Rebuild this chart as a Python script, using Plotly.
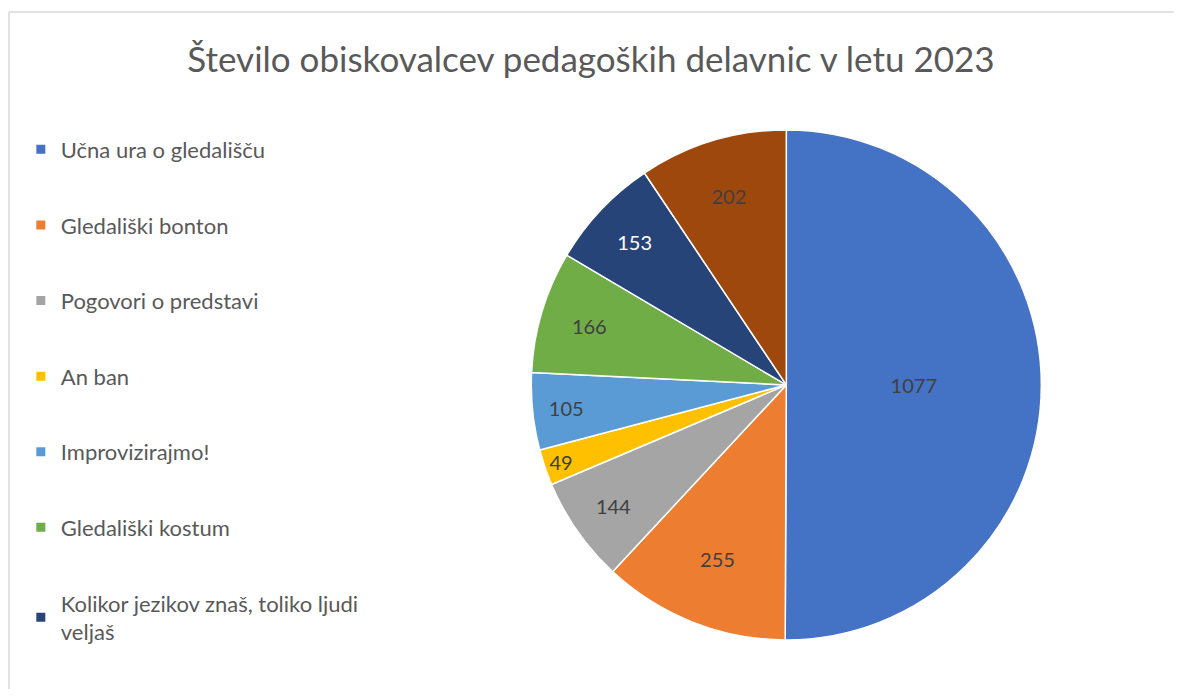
import plotly.graph_objects as go

labels = ["Učna ura o gledališču", "Gledališki bonton", "Pogovori o predstavi", "An ban",
          "Improvizirajmo!", "Gledališki kostum", "Kolikor jezikov znaš, toliko ljudi veljaš",
          "Druge delavnice"]
legend_names = ["Učna ura o gledališču", "Gledališki bonton", "Pogovori o predstavi", "An ban",
                "Improvizirajmo!", "Gledališki kostum", "Kolikor jezikov znaš, toliko ljudi<br>veljaš"]
values = [1077, 255, 144, 49, 105, 166, 153, 202]
colors = ["#4472C4", "#ED7D31", "#A5A5A5", "#FFC000", "#5B9BD5", "#70AD47", "#264478", "#9E480E"]
text_colors = ["#404040"] * 6 + ["white", "#404040"]

FONT = "Lato"

fig = go.Figure()
fig.add_trace(go.Pie(
    labels=labels, values=values, sort=False, direction="clockwise", rotation=0,
    marker=dict(colors=colors, line=dict(color="white", width=1.5)),
    textinfo="value", textposition="inside", insidetextorientation="horizontal",
    textfont=dict(color=text_colors, size=20, family=FONT),
    domain=dict(x=[0.40, 0.935], y=[0.072, 0.821]),
    showlegend=False,
))

for i, name in enumerate(legend_names):
    fig.add_trace(go.Scatter(
        x=[None], y=[None], mode="markers", name=name, legendgroup=f"g{i}",
        marker=dict(symbol="square", size=9, color=colors[i]),
    ))

border = dict(color="#D9D9D9", width=1.5)
fig.update_layout(
    width=1166, height=681,
    margin=dict(l=0, r=0, t=0, b=0),
    paper_bgcolor="white", plot_bgcolor="white",
    font=dict(family=FONT, color="#595959"),
    title=dict(text="Število obiskovalcev pedagoških delavnic v letu 2023",
               x=0.5, xanchor="center", y=0.924, yanchor="middle",
               font=dict(size=35, color="#595959", family=FONT)),
    xaxis=dict(visible=False), yaxis=dict(visible=False),
    legend=dict(x=0.011, y=0.823, xanchor="left", yanchor="top",
                font=dict(size=22, color="#595959", family=FONT),
                tracegroupgap=44, traceorder="grouped", itemwidth=30,
                bgcolor="rgba(0,0,0,0)"),
    shapes=[
        dict(type="line", xref="paper", yref="paper", x0=0.0008, x1=0.0008, y0=0, y1=0.994, line=border),
        dict(type="line", xref="paper", yref="paper", x0=0.0008, x1=1.0, y0=0.994, y1=0.994, line=border),
    ],
)

fig.write_html("out.html")
